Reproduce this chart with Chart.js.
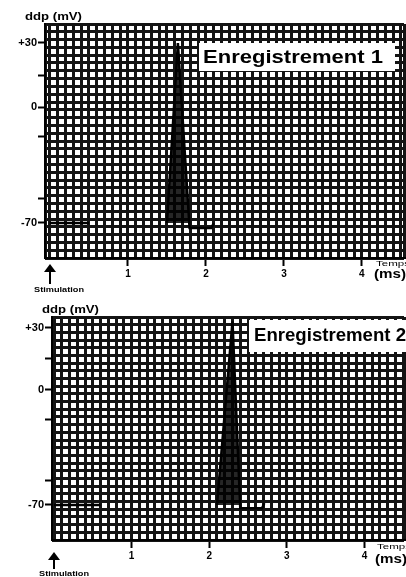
<!DOCTYPE html>
<html>
<head>
<meta charset="utf-8">
<script src="https://cdn.jsdelivr.net/npm/chart.js@4.4.0/dist/chart.umd.min.js"></script>
<style>
  html, body { margin: 0; padding: 0; background: #fff; }
  #wrap { position: relative; width: 406px; height: 577px; overflow: hidden; }
  canvas { position: absolute; left: 0; }
  #c1 { top: 0; }
  #c2 { top: 290px; }
</style>
</head>
<body>
<div id="wrap">
  <canvas id="c1" width="406" height="296"></canvas>
  <canvas id="c2" width="406" height="287"></canvas>
</div>
<script>
// Enregistrement 1 : time (ms) / ddp (mV)
var rec1Time = [0, 0.5, 0.5, 1.5, 1.64, 1.79, 2.07, 2.1];
var rec1Ddp = [-70, -70, null, -70, 30, -73, -73, -70];

// Enregistrement 2
var rec2Time = [0, 0.6, 0.6, 2.1, 2.3, 2.4, 2.68, 2.71];
var rec2Ddp = [-70, -70, null, -70, 33, -72, -72, -69];

// axes
var yTickValues = [30, 15, 0, -18, -55, -70];
var yTickLabels = { '30': '+30', '0': '0', '-70': '-70' };
var xTickLabels = [1, 2, 3, 4];

var FONT = '"Liberation Sans", Arial, sans-serif';
Chart.defaults.font.family = FONT;
var gridColor = '#141414';

// the paper's mV axis is not linear: a piecewise scale keeps +30 / 0 / -70 where they are
class PiecewiseScale extends Chart.LinearScale {
  static id = 'piecewise';
  static defaults = {};
  _map(v, from, to) {
    for (var i = 1; i < from.length; i++) {
      if (v <= from[i] || i === from.length - 1) {
        var t = (v - from[i - 1]) / (from[i] - from[i - 1]);
        return to[i - 1] + t * (to[i] - to[i - 1]);
      }
    }
  }
  getPixelForValue(value) {
    return this.getPixelForDecimal(this._map(value, this.options.anchorValues, this.options.anchorDecimals));
  }
  getValueForPixel(pixel) {
    return this._map(this.getDecimalForPixel(pixel), this.options.anchorDecimals, this.options.anchorValues);
  }
}
Chart.register(PiecewiseScale);

function fitText(ctx, text, x, y, size, width, weight) {
  ctx.font = (weight || 'bold') + ' ' + size + 'px ' + FONT;
  var w = ctx.measureText(text).width;
  ctx.save();
  ctx.translate(x, y);
  ctx.scale(width / w, 1);
  ctx.fillText(text, 0, 0);
  ctx.restore();
}

function notesPlugin(n) {
  return {
    id: 'notes',
    afterDraw: function(chart) {
      var ctx = chart.ctx;
      var x0 = chart.scales.x.getPixelForValue(0);
      ctx.save();
      ctx.fillStyle = '#000';
      ctx.textBaseline = 'middle';
      ctx.textAlign = 'left';

      // title box
      ctx.fillStyle = '#fff';
      ctx.fillRect(n.box[0], n.box[1], n.box[2], n.box[3]);
      ctx.fillStyle = '#000';
      fitText(ctx, n.title, n.titleX, n.titleY, n.titleSize, n.titleW);

      // y axis name
      fitText(ctx, 'ddp (mV)', n.ddp[0], n.ddp[1], 10, 57);

      // stimulation arrow
      ctx.strokeStyle = '#000';
      ctx.lineWidth = 2;
      ctx.beginPath();
      ctx.moveTo(x0, n.stim[0] + 5);
      ctx.lineTo(x0, n.stim[1]);
      ctx.stroke();
      ctx.beginPath();
      ctx.moveTo(x0, n.stim[0]);
      ctx.lineTo(x0 - 6, n.stim[0] + 8);
      ctx.lineTo(x0 + 6, n.stim[0] + 8);
      ctx.closePath();
      ctx.fill();
      fitText(ctx, 'Stimulation', n.stimText[0], n.stimText[1], 8, 50);

      // time axis name
      fitText(ctx, 'Temps', n.temps[0], n.temps[1], 8, 34, 'normal');
      fitText(ctx, '(ms)', n.temps[0] - 2, n.temps[2], 12, 32);
      ctx.restore();
    }
  };
}

function makeChart(id, p) {
  var isLabelled = function(v) {
    return Math.abs(v - Math.round(v)) < 1e-6 && xTickLabels.indexOf(Math.round(v)) >= 0;
  };
  return new Chart(document.getElementById(id), {
    type: 'line',
    data: {
      datasets: [{
        data: p.time.map(function(t, i) { return { x: t, y: p.ddp[i] }; }),
        borderColor: '#000',
        borderWidth: 2.5,
        pointRadius: 0,
        tension: 0,
        spanGaps: false,
        fill: { target: { value: -70 }, above: 'rgba(0,0,0,0.85)', below: 'rgba(0,0,0,0)' }
      }]
    },
    options: {
      responsive: false,
      animation: false,
      layout: { padding: { top: p.padTop, right: p.padRight, left: 0, bottom: 0 } },
      plugins: { legend: { display: false }, tooltip: { enabled: false } },
      scales: {
        x: {
          type: 'linear',
          min: p.xMin,
          max: p.xMax,
          afterBuildTicks: function(s) {
            var t = [{ value: p.xMin }];
            for (var k = 0; k / 10 < p.xMax; k++) t.push({ value: k / 10 });
            t.push({ value: p.xMax });
            s.ticks = t;
          },
          afterFit: function(s) { s.height = p.xAxisH; },
          border: { display: true, color: '#000', width: 2 },
          grid: {
            color: gridColor,
            lineWidth: 3,
            drawTicks: true,
            tickLength: 8,
            tickWidth: 2,
            tickColor: function(c) { return c.tick && isLabelled(c.tick.value) ? '#000' : 'rgba(0,0,0,0)'; }
          },
          ticks: {
            autoSkip: false,
            maxRotation: 0,
            padding: 2,
            color: '#000',
            font: { size: 10, weight: 'bold' },
            callback: function(v) { return isLabelled(v) ? String(Math.round(v)) : ''; }
          }
        },
        y: {
          type: 'piecewise',
          position: 'left',
          min: p.anchorValues[0],
          max: p.anchorValues[p.anchorValues.length - 1],
          anchorValues: p.anchorValues,
          anchorDecimals: p.anchorDecimals,
          afterBuildTicks: function(s) {
            s.ticks = yTickValues.map(function(v) { return { value: v }; });
          },
          afterFit: function(s) { s.width = p.yAxisW; },
          border: { display: true, color: '#000', width: 2 },
          grid: { drawOnChartArea: false, drawTicks: true, tickLength: 7, tickWidth: 2, tickColor: '#000' },
          ticks: {
            padding: 1,
            color: '#000',
            font: { size: 11, weight: 'bold' },
            callback: function(v) { return yTickLabels[String(v)] || ''; }
          }
        },
        grid: {
          type: 'linear',
          position: 'right',
          min: 0,
          max: p.rows,
          afterBuildTicks: function(s) {
            var t = [];
            for (var k = 0; k <= p.rows; k++) t.push({ value: k });
            s.ticks = t;
          },
          afterFit: function(s) { s.width = 0; },
          border: { display: false },
          grid: { color: gridColor, lineWidth: 3, drawTicks: false },
          ticks: { display: false }
        }
      }
    },
    plugins: [notesPlugin(p.notes)]
  });
}

makeChart('c1', {
  time: rec1Time, ddp: rec1Ddp,
  xMin: -0.064, xMax: 4.54,
  anchorValues: [-91, -70, 0, 30, 39],
  anchorDecimals: [0, 0.1496, 0.645, 0.919, 1],
  padTop: 24, padRight: 2, xAxisH: 38, yAxisW: 45, rows: 30,
  notes: {
    box: [199, 43, 196, 28], title: 'Enregistrement 1', titleX: 203, titleY: 58, titleSize: 18, titleW: 180,
    ddp: [25, 17],
    stim: [264, 284], stimText: [34, 290],
    temps: [376, 264, 275]
  }
});

makeChart('c2', {
  time: rec2Time, ddp: rec2Ddp,
  xMin: -0.026, xMax: 4.51,
  anchorValues: [-91, -70, 0, 30, 35],
  anchorDecimals: [0, 0.157, 0.673, 0.951, 1],
  padTop: 27, padRight: 0, xAxisH: 37, yAxisW: 52, rows: 29,
  notes: {
    box: [249, 30, 160, 32], title: 'Enregistrement 2', titleX: 254, titleY: 46, titleSize: 19, titleW: 152,
    ddp: [42, 20],
    stim: [262, 279], stimText: [39, 284],
    temps: [377, 257, 270]
  }
});
</script>
</body>
</html>
